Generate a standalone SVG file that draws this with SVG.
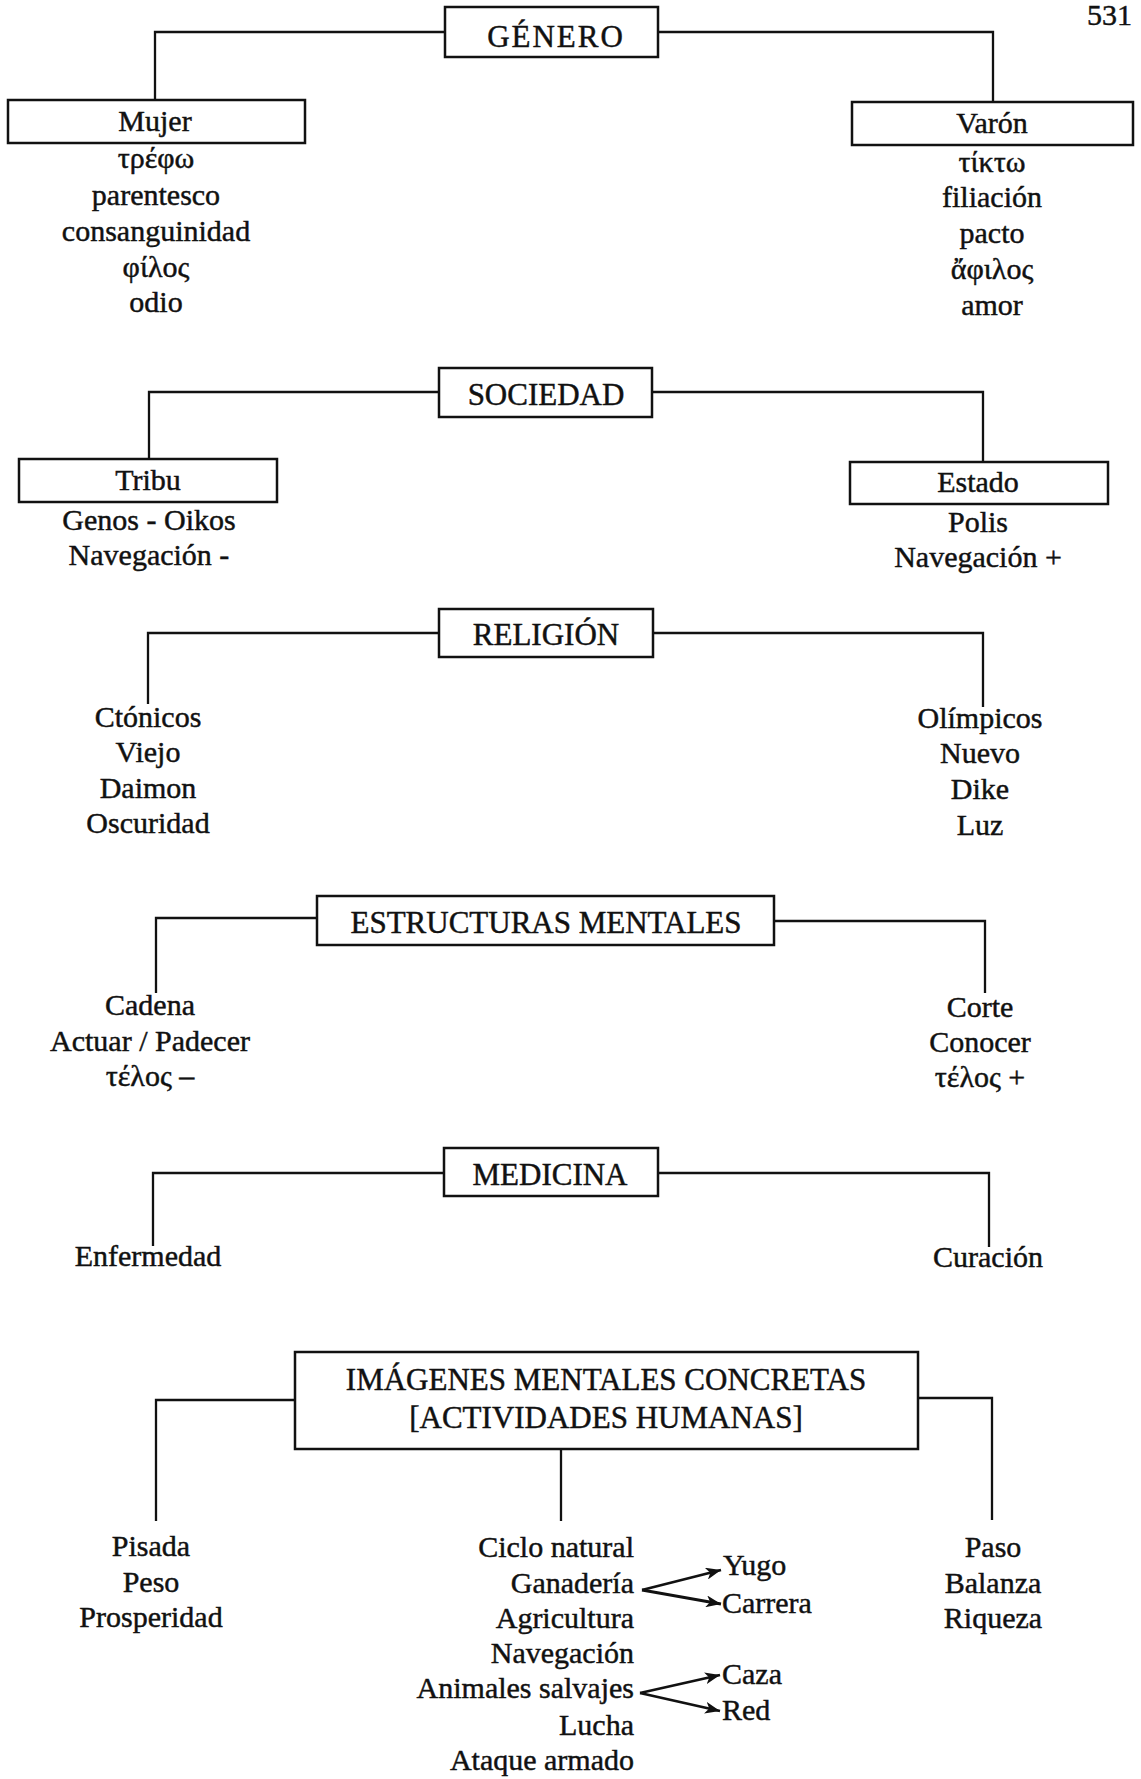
<svg xmlns="http://www.w3.org/2000/svg" width="1141" height="1779" viewBox="0 0 1141 1779">
<style>
  .box { fill: #fff; stroke: #111; stroke-width: 2.5; }
  .ln { fill: none; stroke: #111; stroke-width: 2.3; }
  .ar { fill: none; stroke: #111; stroke-width: 2.8; marker-end: url(#ah); }
  text { font-family: "Liberation Serif", "DejaVu Serif", serif; font-size: 30px; fill: #111; stroke: #111; stroke-width: 0.45; }
  .c { text-anchor: middle; }
  .e { text-anchor: end; }
  .h { font-size: 31px; text-anchor: middle; }
</style>
<defs>
  <marker id="ah" markerUnits="userSpaceOnUse" markerWidth="16" markerHeight="12" refX="15" refY="6" orient="auto">
    <path d="M0,0 L15,6 L0,12 L4,6 Z" fill="#111"/>
  </marker>
</defs>
<rect width="1141" height="1779" fill="#fff"/>

<text x="1087" y="25" font-size="25">531</text>

<g id="connectors">
  <path class="ln" d="M445,32 H155 V100"/>
  <path class="ln" d="M658,32 H993 V102"/>
  <path class="ln" d="M439,392 H149 V459"/>
  <path class="ln" d="M652,392 H983 V462"/>
  <path class="ln" d="M439,633 H148 V704"/>
  <path class="ln" d="M653,633 H983 V707"/>
  <path class="ln" d="M317,918 H156 V993"/>
  <path class="ln" d="M774,921 H985 V993"/>
  <path class="ln" d="M444,1173 H153 V1246"/>
  <path class="ln" d="M658,1173 H989 V1247"/>
  <path class="ln" d="M295,1400 H156 V1521"/>
  <path class="ln" d="M918,1398 H992 V1520"/>
  <path class="ln" d="M561,1449 V1521"/>
  <path class="ar" d="M642,1590 L721,1570"/>
  <path class="ar" d="M642,1590 L721,1604"/>
  <path class="ar" d="M640,1693 L720,1675"/>
  <path class="ar" d="M640,1693 L720,1711"/>
</g>

<g id="genero">
  <rect class="box" x="445" y="7" width="213" height="50"/>
  <text class="h" x="556" y="47" letter-spacing="2">GÉNERO</text>
</g>
<g id="mujer">
  <rect class="box" x="8" y="100" width="297" height="43"/>
  <text class="c" x="155" y="131">Mujer</text>
</g>
<g id="mujer-list">
  <text class="c" x="156" y="168">τρέφω</text>
  <text class="c" x="156" y="205">parentesco</text>
  <text class="c" x="156" y="241">consanguinidad</text>
  <text class="c" x="156" y="277">φίλος</text>
  <text class="c" x="156" y="312">odio</text>
</g>
<g id="varon">
  <rect class="box" x="852" y="102" width="281" height="43"/>
  <text class="c" x="992" y="133">Varón</text>
</g>
<g id="varon-list">
  <text class="c" x="992" y="172">τίκτω</text>
  <text class="c" x="992" y="207">filiación</text>
  <text class="c" x="992" y="243">pacto</text>
  <text class="c" x="992" y="279">ἄφιλος</text>
  <text class="c" x="992" y="315">amor</text>
</g>

<g id="sociedad">
  <rect class="box" x="439" y="368" width="213" height="49"/>
  <text class="h" x="546" y="405">SOCIEDAD</text>
</g>
<g id="tribu">
  <rect class="box" x="19" y="459" width="258" height="43"/>
  <text class="c" x="148" y="490">Tribu</text>
</g>
<g id="tribu-list">
  <text class="c" x="149" y="530">Genos - Oikos</text>
  <text class="c" x="149" y="565">Navegación -</text>
</g>
<g id="estado">
  <rect class="box" x="850" y="462" width="258" height="42"/>
  <text class="c" x="978" y="492">Estado</text>
</g>
<g id="estado-list">
  <text class="c" x="978" y="532">Polis</text>
  <text class="c" x="978" y="567">Navegación +</text>
</g>

<g id="religion">
  <rect class="box" x="439" y="609" width="214" height="48"/>
  <text class="h" x="546" y="645">RELIGIÓN</text>
</g>
<g id="ctonicos">
  <text class="c" x="148" y="727">Ctónicos</text>
  <text class="c" x="148" y="762">Viejo</text>
  <text class="c" x="148" y="798">Daimon</text>
  <text class="c" x="148" y="833">Oscuridad</text>
</g>
<g id="olimpicos">
  <text class="c" x="980" y="728">Olímpicos</text>
  <text class="c" x="980" y="763">Nuevo</text>
  <text class="c" x="980" y="799">Dike</text>
  <text class="c" x="980" y="835">Luz</text>
</g>

<g id="estructuras">
  <rect class="box" x="317" y="896" width="457" height="49"/>
  <text class="h" x="546" y="933">ESTRUCTURAS MENTALES</text>
</g>
<g id="cadena">
  <text class="c" x="150" y="1015">Cadena</text>
  <text class="c" x="150" y="1051">Actuar / Padecer</text>
  <text class="c" x="150" y="1086">τέλος –</text>
</g>
<g id="corte">
  <text class="c" x="980" y="1017">Corte</text>
  <text class="c" x="980" y="1052">Conocer</text>
  <text class="c" x="980" y="1087">τέλος +</text>
</g>

<g id="medicina">
  <rect class="box" x="444" y="1148" width="214" height="48"/>
  <text class="h" x="550" y="1185">MEDICINA</text>
</g>
<g id="enfermedad">
  <text class="c" x="148" y="1266">Enfermedad</text>
</g>
<g id="curacion">
  <text class="c" x="988" y="1267">Curación</text>
</g>

<g id="imagenes">
  <rect class="box" x="295" y="1352" width="623" height="97"/>
  <text class="h" x="606" y="1390">IMÁGENES MENTALES CONCRETAS</text>
  <text class="h" x="606" y="1428">[ACTIVIDADES HUMANAS]</text>
</g>
<g id="pisada">
  <text class="c" x="151" y="1556">Pisada</text>
  <text class="c" x="151" y="1592">Peso</text>
  <text class="c" x="151" y="1627">Prosperidad</text>
</g>
<g id="actividades">
  <text class="e" x="634" y="1557">Ciclo natural</text>
  <text class="e" x="634" y="1593">Ganadería</text>
  <text class="e" x="634" y="1628">Agricultura</text>
  <text class="e" x="634" y="1663">Navegación</text>
  <text class="e" x="634" y="1698">Animales salvajes</text>
  <text class="e" x="634" y="1735">Lucha</text>
  <text class="e" x="634" y="1770">Ataque armado</text>
</g>
<g id="yugo"><text x="723" y="1575">Yugo</text></g>
<g id="carrera"><text x="722" y="1613">Carrera</text></g>
<g id="caza"><text x="722" y="1684">Caza</text></g>
<g id="red"><text x="722" y="1720">Red</text></g>
<g id="paso">
  <text class="c" x="993" y="1557">Paso</text>
  <text class="c" x="993" y="1593">Balanza</text>
  <text class="c" x="993" y="1628">Riqueza</text>
</g>
</svg>
